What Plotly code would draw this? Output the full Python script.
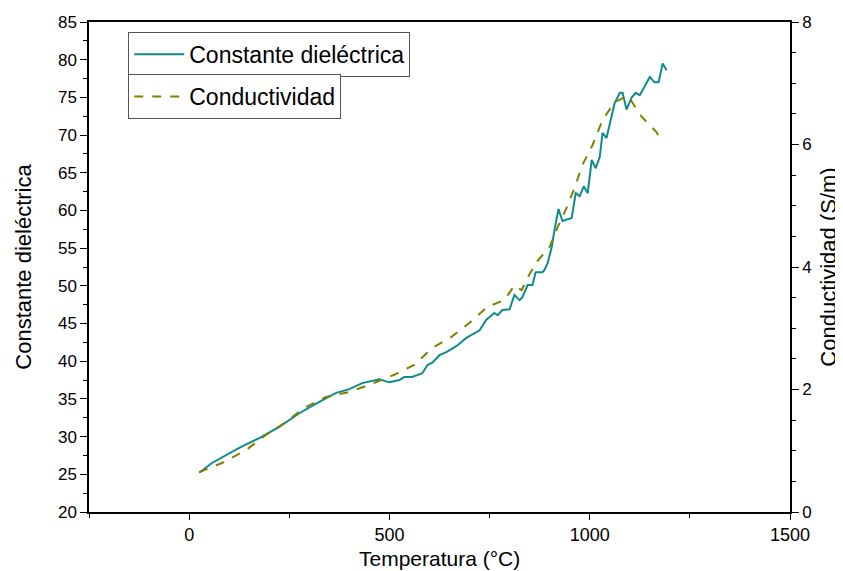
import plotly.graph_objects as go

# Dielectric constant vs temperature (left axis)
temp_eps = [25, 57, 125, 175, 225, 275, 325, 367, 400, 432, 475, 500, 525, 537, 557,
            582, 595, 607, 625, 642, 667, 692, 725, 742, 762, 770, 782, 800, 812, 825,
            832, 845, 857, 865, 882, 887, 895, 905, 912, 922, 932, 955, 965, 975, 985,
            995, 1005, 1015, 1025, 1032, 1042, 1062, 1075, 1082, 1092, 1105, 1115, 1125,
            1150, 1162, 1172, 1182, 1192]
eps = [25.2, 26.5, 28.5, 29.8, 31.3, 33.1, 34.6, 35.8, 36.3, 37.1, 37.6, 37.2, 37.5, 37.9, 37.9,
       38.4, 39.5, 39.8, 40.8, 41.2, 42.0, 43.1, 44.1, 45.5, 46.4, 46.1, 46.8, 46.9, 48.8, 48.1,
       48.5, 50.1, 50.1, 51.8, 51.8, 52.1, 53.0, 55.1, 57.4, 60.2, 58.6, 59.0, 62.3, 61.9, 63.2,
       62.3, 66.7, 65.6, 67.1, 70.3, 69.6, 74.2, 75.6, 75.6, 73.4, 75.0, 75.6, 75.3,
       77.7, 77.0, 77.0, 79.5, 78.6]

# Conductivity vs temperature (right axis)
temp_sigma = [25, 82, 142, 192, 242, 287, 342, 400, 455, 512, 562, 607, 655, 700, 745,
              787, 812, 830, 842, 867, 900, 920, 942, 962, 982, 1007, 1032, 1062, 1095,
              1130, 1167, 1175]
sigma = [0.65, 0.80, 1.01, 1.26, 1.47, 1.70, 1.88, 1.96, 2.09, 2.24, 2.40, 2.68, 2.86, 3.09, 3.35,
         3.46, 3.70, 3.62, 3.79, 4.08, 4.33, 4.65, 4.96, 5.29, 5.67, 5.99, 6.40, 6.69, 6.80,
         6.45, 6.20, 6.10]

FONT = "Liberation Sans, Arial, sans-serif"

fig = go.Figure()
fig.add_trace(go.Scatter(x=temp_eps, y=eps, mode="lines", name="Constante dieléctrica",
                         line=dict(color="#0E8C8C", width=2), legend="legend", showlegend=True))
fig.add_trace(go.Scatter(x=temp_sigma, y=sigma, mode="lines", name="Conductividad",
                         line=dict(color="#808000", width=2, dash="dash"),
                         yaxis="y2", legend="legend2", showlegend=True))

# page body has an 8px margin, so shift the plot area up/left by 8
fig.update_layout(
    width=843, height=571,
    margin=dict(l=81, r=61, t=14, b=67),
    paper_bgcolor="white", plot_bgcolor="white",
    showlegend=True,
    font=dict(family=FONT, color="black", size=16),
    xaxis=dict(range=[-250, 1500], tickvals=[0, 500, 1000, 1500], showgrid=False, zeroline=False,
               showline=True, linecolor="black", linewidth=1.5, mirror=True, automargin=False,
               ticks="outside", ticklen=6, tickwidth=1.2, tickcolor="black",
               minor=dict(tickvals=[-250, 250, 750, 1250], ticks="outside", ticklen=4, tickcolor="black"),
               tickfont=dict(size=18)),
    yaxis=dict(range=[20, 85], dtick=5, showgrid=False, zeroline=False, automargin=False,
               showline=True, linecolor="black", linewidth=1.5,
               ticks="outside", ticklen=7, tickwidth=1.2, tickcolor="black",
               minor=dict(dtick=2.5, ticks="outside", ticklen=4, tickcolor="black"),
               tickfont=dict(size=17),
               title=dict(text="Constante dieléctrica", font=dict(size=22), standoff=20)),
    yaxis2=dict(range=[0, 8], dtick=2, overlaying="y", side="right", showgrid=False, zeroline=False,
                showline=True, linecolor="black", linewidth=1.5, automargin=False,
                ticks="outside", ticklen=7, tickwidth=1.2, tickcolor="black",
                minor=dict(dtick=0.5, ticks="outside", ticklen=4, tickcolor="black"),
                tickfont=dict(size=17),
                title=dict(text="Conductividad (S/m)", font=dict(size=22), standoff=10)),
    legend=dict(x=0.056, y=0.98, xanchor="left", yanchor="top", bgcolor="white",
                bordercolor="#555", borderwidth=1, font=dict(size=23), itemwidth=50),
    legend2=dict(x=0.056, y=0.894, xanchor="left", yanchor="top", bgcolor="white",
                 bordercolor="#555", borderwidth=1, font=dict(size=23), itemwidth=50),
)

# x title as an annotation so it sits just inside the visible page
fig.add_annotation(text="Temperatura (°C)", xref="paper", yref="paper", x=0.5, y=-0.1204,
                   xanchor="center", yanchor="bottom", showarrow=False,
                   font=dict(size=21), borderpad=0)

fig.write_html("out.html")
